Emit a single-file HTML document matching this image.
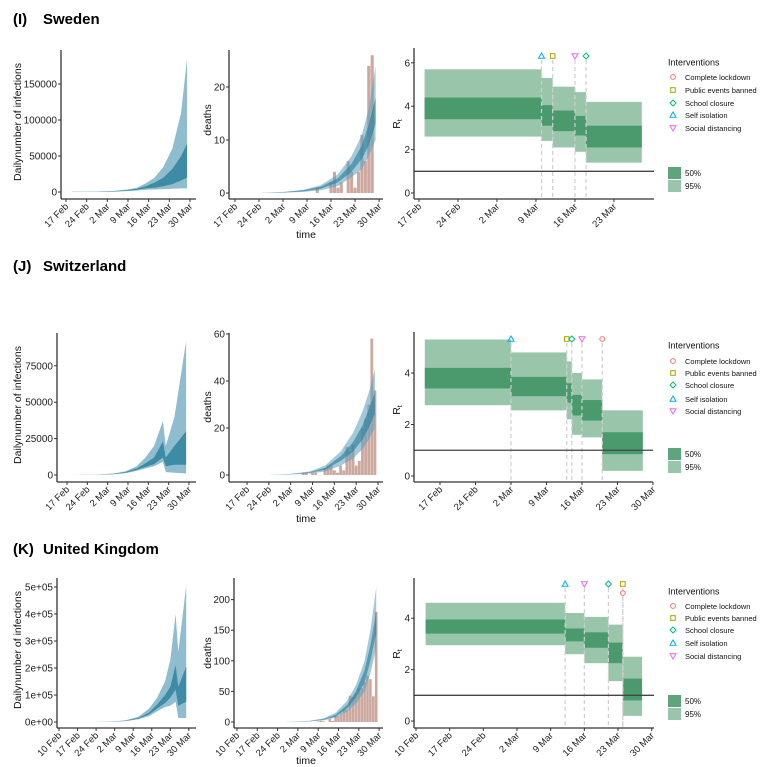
<!DOCTYPE html>
<html><head><meta charset="utf-8">
<style>
html,body{margin:0;padding:0;background:#fff;}
svg{display:block;font-family:"Liberation Sans",sans-serif;}
</style></head>
<body>
<svg id="fig" width="777" height="767" viewBox="0 0 777 767" xmlns="http://www.w3.org/2000/svg">
<text x="13" y="24" font-size="15" font-weight="bold">(I)</text>
<text x="43" y="24" font-size="15" font-weight="bold">Sweden</text>
<text x="13" y="271" font-size="15" font-weight="bold">(J)</text>
<text x="43" y="271" font-size="15" font-weight="bold">Switzerland</text>
<text x="13" y="554" font-size="15" font-weight="bold">(K)</text>
<text x="43" y="554" font-size="15" font-weight="bold">United Kingdom</text>
</svg>
<script>
// ---------- DATA ----------
const weeksFeb17 = ['17 Feb','24 Feb','2 Mar','9 Mar','16 Mar','23 Mar','30 Mar'];
const weeksFeb10 = ['10 Feb','17 Feb','24 Feb','2 Mar','9 Mar','16 Mar','23 Mar','30 Mar'];
const interventionNames = ['Complete lockdown','Public events banned','School closure','Self isolation','Social distancing'];
const interventionTypes = ['circle','square','diamond','tri','down'];

// Sweden infections (thousands), days from 17 Feb
const seInfDays = [2,10,16,20,24,27,30,33,36,39,41];
const seInfHi95 = [0.2,0.5,1.5,3,6,12,20,35,60,110,185];
const seInfHi50 = [0.1,0.3,1,2.2,4.5,8,13,20,32,50,67];
const seInfLo50 = [0.05,0.2,0.7,1.5,3,5,6,8,11,16,20];
const seInfLo95 = [0,0.1,0.4,1,2,3,3.5,4,4.5,5,5];
const seInfTicks = [0,50,100,150];
const seInfTickLabels = ['0','50000','100000','150000'];
// Sweden deaths
const seDeathBarStart = 24;
const seDeathBars = [1,0,0,0,2,4,1,2,0,6,4,1,4,11,6,24,26];
const seDeathDays = [7,14,20,25,30,34,37,39,41];
const seDeathHi95 = [0,0.2,0.6,1.5,3.5,7,11,16,24];
const seDeathHi50 = [0,0.15,0.5,1.2,2.8,5.5,9,13,18];
const seDeathLo50 = [0,0.1,0.3,0.8,2,4,6.5,9,13];
const seDeathLo95 = [0,0.05,0.2,0.5,1.3,3,4.5,7,10];
const seDeathTicks = [0,10,20];
// Sweden Rt
const seRtBreaks = [1,22,24,28,30,40];
const seRtLo95 = [2.6,2.4,2.1,1.9,1.4];
const seRtHi95 = [5.7,5.3,4.9,4.65,4.2];
const seRtLo50 = [3.4,3.1,2.85,2.65,2.1];
const seRtHi50 = [4.4,4.05,3.8,3.55,3.1];
const seRtTicks = [0,2,4,6];
const seIntTypes = ['tri','square','down','diamond'];
const seIntDays = [22,24,28,30];

// Switzerland infections (thousands)
const chInfDays = [0,10,16,20,24,27,30,33,34,37,41];
const chInfHi95 = [0,0.3,1,2.5,6,12,20,37,20,40,92];
const chInfHi50 = [0,0.2,0.8,2,4.5,8,12,23,12,20,30];
const chInfLo50 = [0,0.15,0.6,1.5,3.5,5.5,7.5,12,6,7,7];
const chInfLo95 = [0,0.1,0.5,1.2,2.8,4.5,6,9,2,1.5,1];
const chInfTicks = [0,25,50,75];
const chInfTickLabels = ['0','25000','50000','75000'];
const chDeathBarStart = 18;
const chDeathBars = [1,1,0,1,1,0,0,3,4,4,2,1,4,2,12,10,13,4,6,20,24,30,58,36];
const chDeathDays = [7,14,20,25,30,34,37,39,41];
const chDeathHi95 = [0,0.5,1.5,4,10,18,27,35,45];
const chDeathHi50 = [0,0.4,1.2,3,8,14,21,28,35];
const chDeathLo50 = [0,0.3,0.9,2.2,6,10,15,20,26];
const chDeathLo95 = [0,0.2,0.6,1.5,4,7,11,15,20];
const chDeathTicks = [0,20,40,60];
const chRtBreaks = [-3,14,25,26,28,32,40];
const chRtLo95 = [2.75,2.55,2.2,1.6,1.5,0.2];
const chRtHi95 = [5.3,4.8,4.45,4.0,3.75,2.55];
const chRtLo50 = [3.4,3.1,2.85,2.35,2.15,0.85];
const chRtHi50 = [4.2,3.85,3.6,3.15,2.95,1.7];
const chRtTicks = [0,2,4];
const chIntTypes = ['tri','square','diamond','down','circle'];
const chIntDays = [14,25,26,28,32];

// United Kingdom infections (thousands), days from 10 Feb
const ukInfDays = [13,20,25,30,34,37,40,42,44,45,48];
const ukInfHi95 = [0,2,6,20,50,90,150,230,400,260,505];
const ukInfHi50 = [0,1.5,5,15,35,65,100,130,210,130,205];
const ukInfLo50 = [0,1,4,12,28,50,70,90,120,60,75];
const ukInfLo95 = [0,0.8,3,10,22,40,55,60,75,15,15];
const ukInfTicks = [0,100,200,300,400,500];
const ukInfTickLabels = ['0e+00','1e+05','2e+05','3e+05','4e+05','5e+05'];
const ukDeathBarStart = 28;
const ukDeathBars = [1,2,1,0,5,2,10,10,14,20,20,43,41,47,55,56,65,76,70,42,180];
const ukDeathDays = [16,25,30,34,38,41,44,46,48];
const ukDeathHi95 = [0,2,6,15,35,60,100,150,220];
const ukDeathHi50 = [0,1.5,5,12,28,50,85,125,180];
const ukDeathLo50 = [0,1,4,9,22,40,65,100,145];
const ukDeathLo95 = [0,0.8,3,7,17,30,50,80,120];
const ukDeathTicks = [0,50,100,150,200];
const ukRtBreaks = [2,31,35,40,43,47];
const ukRtLo95 = [2.95,2.6,2.25,1.55,0.2];
const ukRtHi95 = [4.6,4.2,4.05,3.75,2.5];
const ukRtLo50 = [3.4,3.1,2.85,2.25,0.8];
const ukRtHi50 = [3.95,3.6,3.45,3.05,1.65];
const ukRtTicks = [0,2,4];
const ukIntTypes = ['tri','down','diamond','square','circle'];
const ukIntDays = [31,35,40,43,43];

// ---------- DRAWING ----------
const NS = 'http://www.w3.org/2000/svg';
const svg = document.getElementById('fig');
const markerColors = {circle:'#f8766d',square:'#a3a500',diamond:'#00bf7d',tri:'#00b0f6',down:'#e76bf3'};
function mk(tag, attrs, parent) {
  const e = document.createElementNS(NS, tag);
  for (const k in attrs) e.setAttribute(k, attrs[k]);
  (parent || svg).appendChild(e);
  return e;
}
function sx(p, d) { return p.x0 + d * p.dpx; }
function sy(p, v) { return p.y0 - v * p.vpx; }

function axes(p, yTicks, yLabels, xLabels, name) {
  const g = mk('g', {});
  
  
  const yl = mk('line', {x1:p.ax, y1:p.top, x2:p.ax, y2:p.bottom, stroke:'#333', 'stroke-width':1.3}, g);
  
  
  const xl = mk('line', {x1:p.ax, y1:p.bottom, x2:p.right, y2:p.bottom, stroke:'#333', 'stroke-width':1.3}, g);
  
  
  yTicks.forEach((v, i) => {
    const y = sy(p, v);
    mk('line', {x1:p.ax - 3, y1:y, x2:p.ax, y2:y, stroke:'#333'}, g);
    const t = mk('text', {x:p.ax - 4, y:y + 3.5, 'font-size':10, 'text-anchor':'end', fill:'#222'}, g);
    t.textContent = yLabels ? yLabels[i] : String(v);
    
    
  });
  xLabels.forEach((lab, i) => {
    const x = sx(p, i * 7);
    mk('line', {x1:x, y1:p.bottom, x2:x, y2:p.bottom + 3, stroke:'#333'}, g);
    const t = mk('text', {transform:`translate(${x + 3},${p.bottom + 8}) rotate(-45)`, 'font-size':9.5, 'text-anchor':'end', fill:'#222'}, g);
    t.textContent = lab;
    
    
  });
}

function ribbon(p, days, lo, hi, fill, op, name) {
  let pts = days.map((d, i) => sx(p, d).toFixed(1) + ',' + sy(p, hi[i]).toFixed(1));
  for (let i = days.length - 1; i >= 0; i--) pts.push(sx(p, days[i]).toFixed(1) + ',' + sy(p, lo[i]).toFixed(1));
  const e = mk('polygon', {points:pts.join(' '), fill:fill, 'fill-opacity':op});
  
  
}

function bars(p, start, vals, name) {
  vals.forEach((v, i) => {
    if (v <= 0) return;
    const x = sx(p, start + i);
    const w = p.dpx * 0.9;
    const r = mk('rect', {x:x - w / 2, y:sy(p, v), width:w, height:v * p.vpx, fill:'#c4998e', 'fill-opacity':0.85});
    
    
  });
}

function marker(type, x, y, name) {
  const c = markerColors[type];
  let e;
  const a = {fill:'none', stroke:c, 'stroke-width':1};
  if (type === 'circle') e = mk('circle', Object.assign({cx:x, cy:y, r:2.4}, a));
  else if (type === 'square') e = mk('rect', Object.assign({x:x - 2.3, y:y - 2.3, width:4.6, height:4.6}, a));
  else if (type === 'diamond') e = mk('polygon', Object.assign({points:`${x},${y-3} ${x+3},${y} ${x},${y+3} ${x-3},${y}`}, a));
  else if (type === 'tri') e = mk('polygon', Object.assign({points:`${x},${y-3} ${x+3},${y+2.2} ${x-3},${y+2.2}`}, a));
  else e = mk('polygon', Object.assign({points:`${x},${y+3} ${x+3},${y-2.2} ${x-3},${y-2.2}`}, a));
  
  
}

function rtPanel(p, breaks, lo95, hi95, lo50, hi50, intTypes, intDays, markerY) {
  for (let i = 0; i < lo95.length; i++) {
    const x1 = sx(p, breaks[i]), x2 = sx(p, breaks[i + 1]);
    const r95 = mk('rect', {x:x1, y:sy(p, hi95[i]), width:x2 - x1, height:(hi95[i] - lo95[i]) * p.vpx, fill:'#99c5aa'});
    
    
    const r50 = mk('rect', {x:x1, y:sy(p, hi50[i]), width:x2 - x1, height:(hi50[i] - lo50[i]) * p.vpx, fill:'#4a9a6e'});
    
    
  }
  const seen = {};
  intTypes.forEach((t, i) => {
    const x = sx(p, intDays[i]);
    const off = seen[intDays[i]] ? 9 : 0;
    seen[intDays[i]] = true;
    const dl = mk('line', {x1:x, y1:markerY + 4 + off, x2:x, y2:p.bottom, stroke:'#cfcfcf', 'stroke-width':1.2, 'stroke-dasharray':'4,3'});
    
    
    marker(t, x, markerY + off, 'intervention-marker-' + t);
  });
  const h = mk('line', {x1:p.ax, y1:sy(p, 1), x2:p.right, y2:sy(p, 1), stroke:'#444', 'stroke-width':1.3});
  
  
}

function ylabel(x, y, txt, name, rt) {
  const t = mk('text', {transform:`translate(${x},${y}) rotate(-90)`, 'font-size':10.5, 'text-anchor':'middle', fill:'#111'});
  t.textContent = txt;
  if (rt) { const s = mk('tspan', {'font-size':7, dy:2}, t); s.textContent = 't'; }
  
  
}
function label(x, y, txt, size, name, anchor) {
  const t = mk('text', {x:x, y:y, 'font-size':size, 'text-anchor':anchor || 'start', fill:'#111'});
  t.textContent = txt;
  
  
}

function legend(x, titleY, entryYs, box50Y, box95Y) {
  label(x, titleY + 3.5, 'Interventions', 9, 'legend-title');
  interventionNames.forEach((n, i) => {
    marker(interventionTypes[i], x + 5, entryYs[i], 'legend-marker-' + interventionTypes[i]);
    label(x + 17, entryYs[i] + 3, n, 7.5, 'legend-entry');
  });
  const b1 = mk('rect', {x:x, y:box50Y, width:13, height:12, fill:'#5ea57e'});
  
  
  const b2 = mk('rect', {x:x, y:box95Y, width:13, height:12, fill:'#99c5aa'});
  
  
  label(x + 17, box50Y + 9, '50%', 8, 'legend-entry-50');
  label(x + 17, box95Y + 9, '95%', 8, 'legend-entry-95');
}

function country(c) {
  // infections
  ribbon(c.p1, c.infDays, c.infLo95, c.infHi95, '#8fbdcf', 1, 'infections-95-band');
  ribbon(c.p1, c.infDays, c.infLo50, c.infHi50, '#3e8ba6', 1, 'infections-50-band');
  axes(c.p1, c.infTicks, c.infTickLabels, c.xl1, 'infections');
  ylabel(21, c.infLabelY, 'Dailynumber of infections', 'infections-y-axis-title');
  // deaths
  bars(c.p2, c.barStart, c.bars, 'death-bar');
  ribbon(c.p2, c.dDays, c.dLo95, c.dHi95, '#5a9fba', 0.55, 'deaths-95-band');
  ribbon(c.p2, c.dDays, c.dLo50, c.dHi50, '#2f7f9c', 0.65, 'deaths-50-band');
  axes(c.p2, c.dTicks, null, c.xl2, 'deaths');
  ylabel(211, c.dLabelY, 'deaths', 'deaths-y-axis-title');
  label(306, c.timeY, 'time', 10.5, 'deaths-x-axis-title', 'middle');
  // Rt
  rtPanel(c.p3, c.rtBreaks, c.rtLo95, c.rtHi95, c.rtLo50, c.rtHi50, c.intTypes, c.intDays, c.markerY);
  axes(c.p3, c.rtTicks, null, c.xl3, 'rt');
  ylabel(400, c.rtLabelY, 'R', 'rt-y-axis-title', true);
  legend(668, c.lg[0], c.lg[1], c.lg[2], c.lg[3]);
}

country({
  p1:{ax:61,top:50,bottom:199,right:196,x0:66,dpx:2.952,y0:192,vpx:0.72},
  p2:{ax:229,top:50,bottom:199,right:383,x0:235,dpx:3.43,y0:193,vpx:5.3},
  p3:{ax:414,top:48,bottom:199,right:654,x0:419,dpx:5.57,y0:193,vpx:21.7},
  infDays:seInfDays, infLo95:seInfLo95, infHi95:seInfHi95, infLo50:seInfLo50, infHi50:seInfHi50,
  infTicks:seInfTicks, infTickLabels:seInfTickLabels, xl1:weeksFeb17, infLabelY:122,
  barStart:seDeathBarStart, bars:seDeathBars, dDays:seDeathDays, dLo95:seDeathLo95, dHi95:seDeathHi95,
  dLo50:seDeathLo50, dHi50:seDeathHi50, dTicks:seDeathTicks, xl2:weeksFeb17, dLabelY:120, timeY:238,
  rtBreaks:seRtBreaks, rtLo95:seRtLo95, rtHi95:seRtHi95, rtLo50:seRtLo50, rtHi50:seRtHi50,
  intTypes:seIntTypes, intDays:seIntDays, markerY:56, rtTicks:seRtTicks, xl3:weeksFeb17.slice(0,6), rtLabelY:124,
  lg:[62,[77,90,103,115,128],167,180]
});
country({
  p1:{ax:57,top:333,bottom:482,right:196,x0:67,dpx:2.905,y0:475,vpx:1.456},
  p2:{ax:229,top:333,bottom:482,right:383,x0:247,dpx:3.12,y0:475,vpx:2.35},
  p3:{ax:414,top:332,bottom:482,right:653,x0:440,dpx:5.07,y0:476,vpx:25.75},
  infDays:chInfDays, infLo95:chInfLo95, infHi95:chInfHi95, infLo50:chInfLo50, infHi50:chInfHi50,
  infTicks:chInfTicks, infTickLabels:chInfTickLabels, xl1:weeksFeb17, infLabelY:405,
  barStart:chDeathBarStart, bars:chDeathBars, dDays:chDeathDays, dLo95:chDeathLo95, dHi95:chDeathHi95,
  dLo50:chDeathLo50, dHi50:chDeathHi50, dTicks:chDeathTicks, xl2:weeksFeb17, dLabelY:407, timeY:522,
  rtBreaks:chRtBreaks, rtLo95:chRtLo95, rtHi95:chRtHi95, rtLo50:chRtLo50, rtHi50:chRtHi50,
  intTypes:chIntTypes, intDays:chIntDays, markerY:339, rtTicks:chRtTicks, xl3:weeksFeb17, rtLabelY:410,
  lg:[345,[361,373,385,399,411],448,461]
});
country({
  p1:{ax:57,top:578,bottom:728,right:196,x0:59,dpx:2.65,y0:722,vpx:0.27},
  p2:{ax:234,top:578,bottom:728,right:383,x0:237,dpx:2.9,y0:722,vpx:0.612},
  p3:{ax:414,top:578,bottom:728,right:654,x0:416,dpx:4.81,y0:721,vpx:25.7},
  infDays:ukInfDays, infLo95:ukInfLo95, infHi95:ukInfHi95, infLo50:ukInfLo50, infHi50:ukInfHi50,
  infTicks:ukInfTicks, infTickLabels:ukInfTickLabels, xl1:weeksFeb10, infLabelY:650,
  barStart:ukDeathBarStart, bars:ukDeathBars, dDays:ukDeathDays, dLo95:ukDeathLo95, dHi95:ukDeathHi95,
  dLo50:ukDeathLo50, dHi50:ukDeathHi50, dTicks:ukDeathTicks, xl2:weeksFeb10, dLabelY:653, timeY:764,
  rtBreaks:ukRtBreaks, rtLo95:ukRtLo95, rtHi95:ukRtHi95, rtLo50:ukRtLo50, rtHi50:ukRtHi50,
  intTypes:ukIntTypes, intDays:ukIntDays, markerY:584, rtTicks:ukRtTicks, xl3:weeksFeb10, rtLabelY:654,
  lg:[591,[606,618,630,643,656],695,708]
});
</script>
</body></html>
